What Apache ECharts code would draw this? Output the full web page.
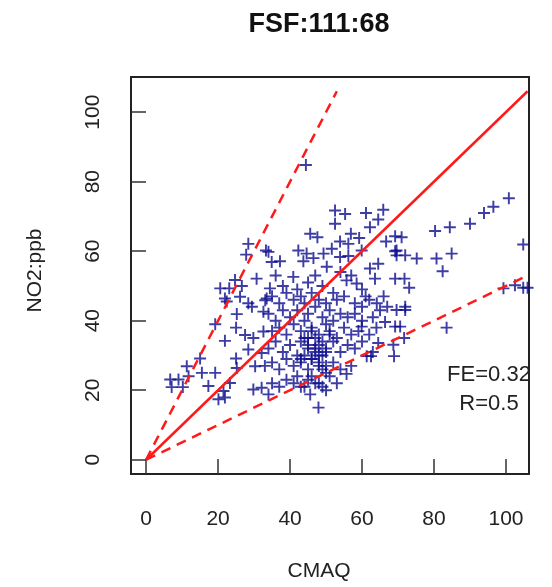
<!DOCTYPE html>
<html><head><meta charset="utf-8">
<script src="https://cdn.jsdelivr.net/npm/echarts@6/dist/echarts.min.js"></script>
<style>html,body{margin:0;padding:0;background:#fff}#c{width:552px;height:587px}</style>
</head><body><div id="c"></div>
<script>
const chartTitle = 'FSF:111:68';
const xName = 'CMAQ';
const yName = 'NO2:ppb';
const tickValues = [0, 20, 40, 60, 80, 100];
const statLines = ['FE=0.32', 'R=0.5'];
const refMax = 106;

const cmaq = [
44.4,52.5,55.3,61.1,65.9,93.9,96.5,100.8,64.5,52.5,62.2,45.6,47.6,56.9,59.2,53.9,56.2,66.7,69.2,69.6,34,42.3,44.6,46.5,49.3,51.6,53.9,56.2,59.9,43.7,34.9,37.2,50.2,62.2,64.5,40.9,55.7,58.5,63.6,69.2,34.4,33.5,
28.4,27.8,33.3,30.7,24.7,26.6,20.6,23.1,21.9,26.1,28.4,33.1,
90,84.4,80.3,71,104.8,69.2,69.6,72,75.2,80.7,84.9,82.4,71.8,73.1,99.3,102.5,104.8,106,72,
69.6,72,69.2,70.6,83.5,71.7,68.7,68.9,
22.4,29.4,25.2,32.6,19.2,25,27.5,32.6,29.8,21.9,28.4,32.1,15,25,25.2,30.3,11.3,11.8,9,6.7,7.1,10.2,15.5,19.2,17.3,21.5,21.9,20.1,23.3,29.8,32.1,34,
47.9,55.7,45.6,61.3,62.5,64.5,59.9,66.4,64.1,
36,38,42,45,47,49,52,54,57,60,61,
35,37,39,41,43,44,46,48,50,53,55,58,60,62,66,67,
34,36,38,40,42,44,45,47,49,51,52,54,56,58,60,63,65,
35,37,39,41,43,44,46,48,50,51,53,55,57,59,62,64,
34,36,38,40,42,43,45,47,48,49,50,52,54,56,58,60,63,
33,35,37,39,41,43,45,46,48,50,52,54,57,
35,37,39,41,43,45,47,49,51,53,
44,45,46,47,48,49,50,51,46,48,50,47,49,45,43,42,46,48,44,50
];
const no2 = [
84.8,71.7,70.7,71,71.9,71,72.8,75.2,69.1,67.9,66.9,65,64,65,63.8,62.8,62.1,62.8,64.3,60.2,59.8,60.2,59.3,58,59.3,60.7,58.3,58.6,60.2,57.1,56.9,57.1,55.5,55,56.4,52.6,51.6,50.7,52.1,52.1,49.3,46.4,
62.1,59,60.2,52.1,51.7,50,49.3,49.3,46.4,46.9,45,45.9,
67.9,66.9,65.8,64,61.9,60,58.8,58.8,57.9,57.9,59.3,54.2,52.1,49.5,49.3,50.2,49.5,49.5,44,
43.1,43.1,38.3,38.3,38,35,33.1,29.8,
45.5,44,41.9,42.6,39,38,35.9,36.9,35,34.2,31.7,30.7,29.1,29.1,26.4,26.9,26.9,24,23.1,23.1,20.9,20.9,25,25,21.2,19.8,17.9,17.4,22.1,20.2,20.7,18.8,
15,24.7,18.8,29.8,29.8,33.6,38.3,39.6,45,
53,50,49,51,53,50,48,54,53,49,47,
47,45,48,46,47,45,48,46,45,46,47,45,44,46,47,44,
42,40,43,41,43,40,42,44,41,43,40,42,41,42,40,41,43,
37,38,36,39,37,35,38,36,39,37,35,38,36,37,36,38,
32,34,31,33,30,34,32,31,33,30,32,34,31,33,32,34,31,
27,28,26,29,27,28,26,29,27,25,28,26,27,
22,21,23,22,21,23,22,21,24,22,
30,33,29,35,28,34,31,36,37,30,27,32,26,35,29,24,24,22,21,20
];

const points = cmaq.map((x, i) => [x, no2[i]]);
const plusPath = 'path://M-0.16,-1L0.16,-1L0.16,-0.16L1,-0.16L1,0.16L0.16,0.16L0.16,1L-0.16,1L-0.16,0.16L-1,0.16L-1,-0.16L-0.16,-0.16Z';
const FONT = 'Liberation Sans';

const chart = echarts.init(document.getElementById('c'), null, {renderer: 'canvas'});
chart.setOption({
  animation: false,
  backgroundColor: '#fff',
  title: {
    text: chartTitle, left: 314, top: 6, textAlign: 'center',
    textStyle: {fontSize: 27, fontWeight: 'bold', color: '#111', fontFamily: FONT}
  },
  grid: {left: 131, top: 77, width: 398, height: 400, show: true, borderColor: '#222', borderWidth: 2, backgroundColor: 'transparent'},
  xAxis: {
    type: 'value', min: -4.2, max: 106.4,
    name: xName, nameLocation: 'middle', nameGap: 87,
    nameTextStyle: {fontSize: 21, color: '#222', fontFamily: FONT, padding: [0, 22, 0, 0]},
    axisLine: {show: false, onZero: false}, splitLine: {show: false},
    axisTick: {show: true, inside: true, length: 15, customValues: tickValues, lineStyle: {color: '#333', width: 1.5}},
    axisLabel: {customValues: tickValues, fontSize: 21, color: '#222', margin: 35, fontFamily: FONT}
  },
  yAxis: {
    type: 'value', min: -4.1, max: 110.1,
    name: yName, nameLocation: 'middle', nameGap: 85,
    nameTextStyle: {fontSize: 21, color: '#222', fontFamily: FONT, padding: [0, 0, 0, 10]},
    axisLine: {show: false, onZero: false}, splitLine: {show: false},
    axisTick: {show: true, inside: true, length: 15, customValues: tickValues, lineStyle: {color: '#333', width: 1.5}},
    axisLabel: {customValues: tickValues, rotate: 90, fontSize: 21, color: '#222', margin: 27, fontFamily: FONT}
  },
  graphic: statLines.map((t, i) => ({
    type: 'text', x: 489, y: 375 + i * 29,
    style: {text: t, textAlign: 'center', textVerticalAlign: 'middle', font: '22px ' + FONT, fill: '#222'}
  })),
  series: [
    {type: 'scatter', data: points, symbol: plusPath, symbolSize: 12, itemStyle: {color: '#0d0d8c'}, z: 2},
    {type: 'line', data: [[0, 0], [refMax, refMax]], symbol: 'none', lineStyle: {color: '#ff1a1a', width: 2.5}, z: 3},
    {type: 'line', data: [[0, 0], [refMax / 2, refMax]], symbol: 'none', lineStyle: {color: '#ff1a1a', width: 2.5, type: [10, 7]}, z: 3},
    {type: 'line', data: [[0, 0], [refMax, refMax / 2]], symbol: 'none', lineStyle: {color: '#ff1a1a', width: 2.5, type: [10, 7]}, z: 3}
  ]
});
</script></body></html>
